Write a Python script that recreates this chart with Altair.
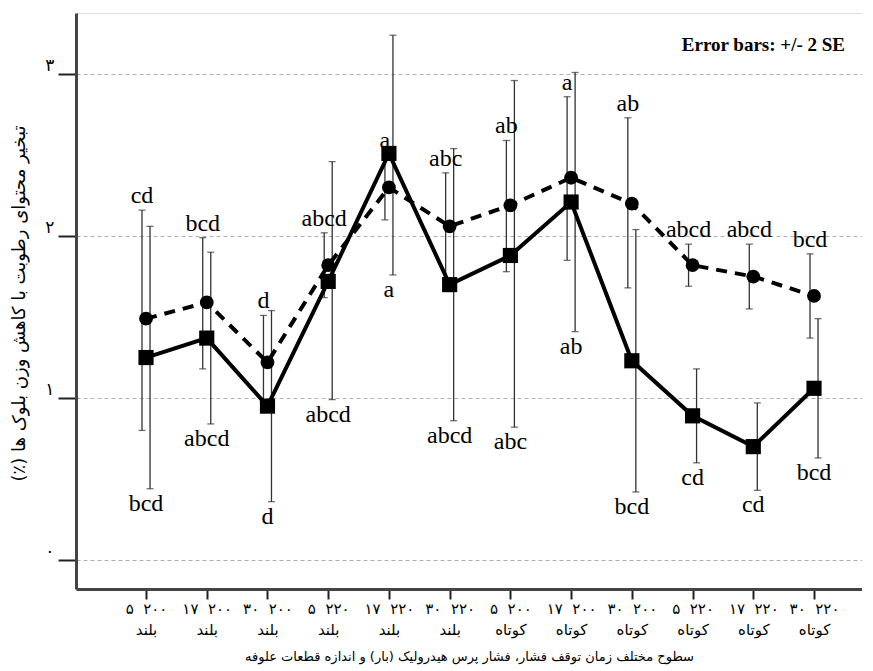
import altair as alt
import pandas as pd

# ---- data ----
cat_index = list(range(1, 13))
num_labels = ["۵  ۲۰۰", "۱۷  ۲۰۰", "۳۰  ۲۰۰", "۵  ۲۲۰", "۱۷  ۲۲۰", "۳۰  ۲۲۰",
              "۵  ۲۰۰", "۱۷  ۲۰۰", "۳۰  ۲۰۰", "۵  ۲۲۰", "۱۷  ۲۲۰", "۳۰  ۲۲۰"]
size_labels = ["بلند"] * 6 + ["کوتاه"] * 6
y_digits = ["۰", "۱", "۲", "۳"]

circle_mean = [1.49, 1.59, 1.22, 1.82, 2.30, 2.06, 2.19, 2.36, 2.20, 1.82, 1.75, 1.63]
circle_lo = [0.80, 1.18, 0.93, 1.62, 2.10, 1.72, 1.78, 1.85, 1.68, 1.69, 1.55, 1.37]
circle_hi = [2.16, 1.99, 1.51, 2.02, 2.50, 2.39, 2.59, 2.86, 2.73, 1.95, 1.95, 1.89]
circle_letters = ["cd", "bcd", "d", "abcd", "a", "abc", "ab", "a", "ab", "abcd", "abcd", "bcd"]

square_mean = [1.25, 1.37, 0.95, 1.72, 2.51, 1.70, 1.88, 2.21, 1.23, 0.89, 0.70, 1.06]
square_lo = [0.44, 0.84, 0.36, 0.99, 1.76, 0.86, 0.82, 1.41, 0.42, 0.60, 0.43, 0.63]
square_hi = [2.06, 1.90, 1.54, 2.46, 3.24, 2.54, 2.96, 3.01, 2.04, 1.18, 0.97, 1.49]
square_letters = ["bcd", "abcd", "d", "abcd", "a", "abcd", "abc", "ab", "bcd", "cd", "cd", "bcd"]

RLM = "\u200f"
x_title = RLM + "سطوح مختلف زمان توقف فشار، فشار پرس هیدرولیک (بار) و اندازه قطعات علوفه" + RLM
y_title = RLM + "تبخیر محتوای رطوبت با کاهش وزن بلوک ها (٪)" + RLM
note = "Error bars: +/- 2 SE"

rows = []
for k in range(12):
    rows.append(dict(series="c", i=cat_index[k], mean=circle_mean[k], lo=circle_lo[k],
                     hi=circle_hi[k], letter=circle_letters[k]))
    rows.append(dict(series="s", i=cat_index[k], mean=square_mean[k], lo=square_lo[k],
                     hi=square_hi[k], letter=square_letters[k]))
df = pd.DataFrame(rows)

W, H = 786, 576
xscale = alt.Scale(domain=[-0.153, 12.79], nice=False, zero=False)
yscale = alt.Scale(domain=[-0.179, 3.377], nice=False, zero=False)

label_arr = "[" + ",".join("['%s','%s']" % (a.replace(" ", "\u00a0"), b)
                           for a, b in zip(num_labels, size_labels)) + "]"
ydig_arr = "[" + ",".join("'%s'" % d for d in y_digits) + "]"

x_axis = alt.Axis(values=cat_index, labelExpr=label_arr + "[round(datum.value) - 1]",
                  title=x_title, titleFont="DejaVu Sans", titleFontSize=13, titleFontWeight="normal",
                  titleY=61, labelFont="DejaVu Sans", labelFontSize=15, labelLineHeight=21,
                  labelPadding=2, tickSize=10, tickWidth=2, tickColor="#222",
                  domainColor="#444", domainWidth=3, grid=False, labelColor="black",
                  titleColor="black")
y_axis = alt.Axis(values=[0, 1, 2, 3], labelExpr=ydig_arr + "[round(datum.value)]",
                  title=y_title, titleFont="DejaVu Sans", titleFontSize=18, titleFontWeight="normal",
                  titleX=-48, titleY=H / 2 + 2, labelFont="DejaVu Sans", labelFontSize=17,
                  labelPadding=4, labelBaseline="bottom", tickSize=18, tickWidth=2, tickColor="#222",
                  domainColor="#444", domainWidth=3, grid=True, gridColor="#b0b0b0",
                  gridDash=[4, 3], gridWidth=1, labelColor="black", titleColor="black")

base = alt.Chart(df).transform_calculate(
    xo="datum.i + (datum.series == 'c' ? -0.066 : 0.066)"
)

bars = base.mark_rule(color="#333", strokeWidth=1.3).encode(
    x=alt.X("xo:Q", scale=xscale, axis=x_axis),
    y=alt.Y("lo:Q", scale=yscale, axis=y_axis),
    y2="hi:Q",
)
cap_lo = base.mark_tick(orient="horizontal", size=7, thickness=1.3, color="#333").encode(
    x=alt.X("xo:Q", scale=xscale), y=alt.Y("lo:Q", scale=yscale))
cap_hi = base.mark_tick(orient="horizontal", size=7, thickness=1.3, color="#333").encode(
    x=alt.X("xo:Q", scale=xscale), y=alt.Y("hi:Q", scale=yscale))

line_c = base.transform_filter("datum.series == 'c'").mark_line(
    color="black", strokeWidth=4, strokeDash=[11, 8]).encode(
    x=alt.X("i:Q", scale=xscale), y=alt.Y("mean:Q", scale=yscale))
line_s = base.transform_filter("datum.series == 's'").mark_line(
    color="black", strokeWidth=4).encode(
    x=alt.X("i:Q", scale=xscale), y=alt.Y("mean:Q", scale=yscale))
pts_c = base.transform_filter("datum.series == 'c'").mark_point(
    shape="circle", filled=True, color="black", size=190, opacity=1).encode(
    x=alt.X("i:Q", scale=xscale), y=alt.Y("mean:Q", scale=yscale))
pts_s = base.transform_filter("datum.series == 's'").mark_point(
    shape="square", filled=True, color="black", size=230, opacity=1).encode(
    x=alt.X("i:Q", scale=xscale), y=alt.Y("mean:Q", scale=yscale))

txt_c = base.transform_filter("datum.series == 'c'").mark_text(
    font="Liberation Serif", fontSize=24, baseline="alphabetic", dy=-7, dx=-4, color="black").encode(
    x=alt.X("i:Q", scale=xscale), y=alt.Y("hi:Q", scale=yscale), text="letter:N")
txt_s = base.transform_filter("datum.series == 's'").mark_text(
    font="Liberation Serif", fontSize=24, baseline="top", dy=3, color="black").encode(
    x=alt.X("i:Q", scale=xscale), y=alt.Y("lo:Q", scale=yscale), text="letter:N")

note_df = pd.DataFrame({"t": [note]})
note_txt = alt.Chart(note_df).mark_text(
    font="Liberation Serif", fontSize=19, fontWeight="bold", align="right",
    baseline="middle", color="black").encode(
    x=alt.value(769), y=alt.value(32), text="t:N")

chart = alt.layer(bars, cap_lo, cap_hi, line_c, line_s, pts_c, pts_s, txt_c, txt_s, note_txt).properties(
    width=W, height=H,
    autosize=alt.AutoSizeParams(type="none"),
    padding={"left": 68, "top": 5, "right": 0, "bottom": 78},
).configure_view(stroke=None).configure(background="white")

chart.save("out.html", embed_options={"renderer": "svg", "actions": False})
